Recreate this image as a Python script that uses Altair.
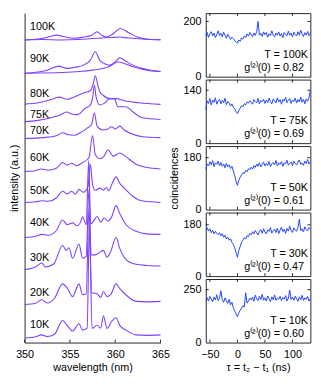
import altair as alt
import pandas as pd

PURPLE = "#7f40ff"
BLUE = "#2244ff"
FONT = "Liberation Sans"
AXC = "#262626"

# ---------------- left: stacked spectra (values = offset intensity, a.u.) ----------------
wl_100a = [350, 351.5, 352.8, 353.5, 354.3, 355.4, 356.5, 357.4, 358.0, 358.5, 359.0, 359.7, 360.6, 361.5, 362.6, 363.8, 365]
in_100a = [316, 317, 319.5, 321, 319.5, 317.7, 319, 321, 324.5, 321, 319, 322, 328, 323.5, 318.5, 316.5, 316]
wl_100b = [350, 352, 354, 356, 357.5, 358.5, 359.5, 360.5, 361.5, 363, 365]
in_100b = [316, 316.5, 316, 316.5, 317.5, 318, 318.5, 319, 318, 317, 316.5]
wl_90a = [350, 351.5, 352.8, 353.7, 354.7, 355.6, 356.5, 357.25, 357.8, 358.3, 358.9, 359.4, 360.0, 360.5, 361.0, 361.6, 363, 364, 365]
in_90a = [281.3, 282.5, 285.5, 288.7, 286.3, 287.5, 289.7, 294.7, 303.7, 294.7, 291, 289.7, 293, 297.3, 295, 291.3, 286.3, 284, 283]
wl_90b = [350, 352, 354, 356, 357.5, 358.5, 359.3, 360.3, 361, 362, 363.5, 365]
in_90b = [281.3, 281.5, 282, 283, 284.5, 286, 288, 293, 291.5, 288, 284.5, 283]
wl_80 = [350, 351.5, 352.8, 353.8, 354.7, 355.6, 356.5, 357.25, 357.6, 357.8, 358.1, 358.3, 358.7, 359.4, 360.1, 361, 362.6, 365]
in_80 = [249, 250.5, 253.5, 256.3, 254, 257, 260.7, 263, 271.3, 278.7, 268, 262, 258, 254.7, 254.7, 252.5, 250.5, 248.7]
wl_75 = [350, 351.5, 352.8, 354, 354.6, 355.3, 355.8, 356.7, 357.25, 357.5, 357.7, 357.9, 358.3, 358.8, 359.4, 359.9, 360.3, 361.2, 361.9, 363, 365]
in_75 = [230.7, 232, 234.5, 238, 240.7, 238.5, 238, 244.7, 248, 255, 268.7, 256, 248, 250, 254.7, 254.7, 246.3, 246.3, 241.3, 234.7, 233]
wl_70 = [350, 352, 353.5, 354.2, 354.8, 355.5, 356.3, 356.9, 357.4, 357.7, 358.0, 358.6, 359.2, 359.6, 360, 360.5, 361, 361.8, 363, 365]
in_70 = [213, 214, 216, 219, 217, 216.5, 220, 224, 228, 240, 226, 222, 223, 225.3, 223, 226, 222, 218, 215, 214]
wl_60 = [350, 351.2, 351.9, 352.6, 353.5, 354.2, 354.7, 355.2, 355.7, 356.4, 357.1, 357.5, 357.8, 358.3, 358.8, 359.2, 359.8, 360.5, 361.1, 362.3, 363.4, 365]
in_60 = [178.7, 179.5, 181.3, 180, 182, 188, 185.3, 187.3, 184.7, 188, 193, 216.3, 196.3, 192, 195, 201.3, 194.7, 198, 194.7, 186.3, 183, 181.3]
wl_50 = [350, 351.2, 351.9, 352.6, 353.5, 354.2, 354.7, 355.2, 355.6, 356.0, 356.5, 357.0, 357.25, 357.5, 357.8, 358.3, 358.7, 359.0, 359.3, 359.6, 360.1, 360.5, 361.0, 361.9, 362.9, 365]
in_50 = [146.3, 147, 148, 147.5, 151, 158, 155.3, 158, 155, 160, 157, 163, 186.3, 165, 159, 161.3, 159, 162, 158.5, 164.7, 173, 166.3, 161.3, 153, 148, 146.3]
wl_40 = [350, 351.2, 351.9, 352.6, 353.5, 354.2, 354.7, 355.3, 355.8, 356.2, 356.4, 356.8, 357.07, 357.3, 357.6, 358.0, 358.4, 358.8, 359.2, 359.6, 360.1, 360.5, 361.2, 362.3, 363.5, 365]
in_40 = [109.7, 111, 113, 112, 117, 128, 123, 125, 122, 126.3, 131.3, 123, 190, 124, 126.7, 131.7, 126, 130, 127, 131, 143, 134.7, 123, 116.3, 113.5, 113]
wl_30 = [350, 351.2, 351.9, 352.3, 353.2, 354.2, 354.6, 354.9, 355.3, 356, 356.4, 356.8, 357.1, 357.35, 357.6, 358.1, 358.7, 359.1, 359.5, 360.1, 360.5, 361.2, 362.3, 363.5, 365]
in_30 = [76.3, 79, 83, 79, 82, 101.3, 96.3, 99, 88, 103, 88, 90, 160, 92, 91.3, 93, 96.3, 89, 95, 109.7, 98.3, 86.7, 81.7, 80.5, 80]
wl_20 = [350, 351.2, 351.9, 352.5, 353.3, 354.2, 354.7, 355.3, 356, 356.4, 356.8, 357.1, 357.4, 358, 358.4, 358.7, 359.1, 359.5, 360.1, 360.5, 361.2, 362.3, 363.5, 365]
in_20 = [39.7, 41, 44.7, 41.3, 46.3, 61.3, 57, 48, 61.3, 50, 51, 140, 52, 51, 47, 53.3, 48, 50, 61.3, 56.3, 49.7, 43, 42.5, 43]
wl_10 = [350, 351.2, 351.9, 352.5, 353.3, 354.2, 354.7, 355.3, 356, 356.4, 356.9, 357.15, 357.45, 358, 358.4, 358.7, 359.1, 359.6, 360.1, 360.5, 361.2, 362.3, 363.5, 365]
in_10 = [4.7, 6, 8, 6.3, 8.7, 23, 18, 12, 19.7, 13, 15, 120, 14.7, 18, 15, 28, 14.7, 22, 26, 18, 13, 8, 7.5, 8]

temp_labels = ["100K", "90K", "80K", "75K", "70K", "60K", "50K", "40K", "30K", "20K", "10K"]
temp_label_y = [329, 295.7, 259.7, 238, 220.5, 193, 158, 124.7, 88, 51.3, 18]
wl_ticks = [350, 355, 360, 365]

# ---------------- right: coincidence histograms ----------------
tau = [-57.5 + 2.5 * i for i in range(77)]
c_100 = [148, 160, 142, 155, 163, 147, 158, 141, 152, 166, 149,
         157, 144, 161, 150, 139, 154, 146, 135, 143, 138, 130,
         126, 121, 133, 128, 140, 136, 148, 142, 155, 147, 160,
         151, 145, 158, 149, 163, 200, 150, 157, 146, 162, 152,
         160, 143, 155, 149, 166, 151, 144, 158, 150, 162, 147,
         156, 141, 160, 152, 148, 165, 150, 158, 144, 161, 153,
         147, 163, 150, 168, 155, 145, 159, 151, 164, 149, 157]
c_75 = [88, 112, 105, 118, 101, 114, 108, 120, 103, 111, 116,
        104, 113, 107, 119, 102, 110, 106, 98, 104, 95, 90,
        84, 78, 86, 92, 99, 96, 104, 101, 109, 106, 112,
        108, 103, 115, 110, 106, 118, 104, 113, 109, 116, 105,
        114, 107, 119, 110, 104, 117, 112, 106, 120, 109, 115,
        103, 116, 111, 121, 107, 113, 118, 105, 114, 110, 119,
        106, 115, 109, 122, 108, 116, 104, 117, 111, 120, 140]
c_50 = [140, 158, 151, 166, 155, 170, 149, 162, 157, 168, 152,
        163, 150, 158, 145, 160, 148, 155, 142, 150, 134, 118,
        98, 84, 102, 112, 120, 128, 125, 136, 131, 142, 138,
        147, 140, 152, 146, 158, 150, 162, 148, 156, 165, 151,
        160, 153, 167, 149, 158, 163, 155, 170, 152, 161, 157,
        166, 150, 162, 158, 171, 154, 160, 165, 152, 168, 159,
        155, 164, 172, 157, 161, 153, 168, 160, 174, 158, 165]
c_30 = [163, 170, 158, 166, 152, 161, 148, 157, 150, 145, 152,
        141, 149, 136, 143, 130, 137, 126, 131, 118, 112, 100,
        82, 66, 90, 104, 118, 126, 135, 130, 142, 138, 150,
        145, 156, 148, 160, 152, 144, 158, 163, 150, 166, 155,
        148, 162, 157, 170, 151, 159, 165, 153, 168, 149, 161,
        172, 156, 164, 150, 167, 158, 175, 160, 153, 169, 162,
        157, 171, 200, 160, 166, 155, 173, 163, 158, 170, 165]
c_10 = [200, 212, 196, 218, 205, 193, 214, 201, 226, 198, 208,
        245, 203, 190, 211, 197, 185, 204, 178, 190, 165, 150,
        134, 122, 140, 152, 163, 174, 168, 235, 186, 196, 210,
        201, 215, 195, 224, 206, 198, 219, 203, 228, 200, 211,
        196, 220, 207, 193, 216, 202, 225, 199, 210, 204, 218,
        198, 213, 205, 222, 196, 210, 248, 203, 215, 200, 219,
        207, 195, 216, 202, 223, 199, 211, 204, 218, 196, 208]

panel_series = [c_100, c_75, c_50, c_30, c_10]
panel_ymax = [230, 168, 220, 223, 300]
panel_ytick = [200, 140, 180, 180, 250]
panel_T = ["T = 100K", "T = 75K", "T = 50K", "T = 30K", "T = 10K"]
panel_g = ["g⁽²⁾(0) = 0.82", "g⁽²⁾(0) = 0.69", "g⁽²⁾(0) = 0.61", "g⁽²⁾(0) = 0.47", "g⁽²⁾(0) = 0.60"]
tau_ticks = [-50, 0, 50, 100]

# ---------------- layout sizes ----------------
RW, RH = 107, 65
RSP = 3
LW, LH = 139, 5 * RH + 4 * RSP

# ---------------- left chart ----------------
curves = [("100a", wl_100a, in_100a), ("100b", wl_100b, in_100b),
          ("90a", wl_90a, in_90a), ("90b", wl_90b, in_90b),
          ("80", wl_80, in_80), ("75", wl_75, in_75), ("70", wl_70, in_70),
          ("60", wl_60, in_60), ("50", wl_50, in_50), ("40", wl_40, in_40),
          ("30", wl_30, in_30), ("20", wl_20, in_20), ("10", wl_10, in_10)]
rows = []
for name, w, v in curves:
    for a, b in zip(w, v):
        rows.append({"s": name, "wl": a, "v": b})
df_spec = pd.DataFrame(rows)

xs = alt.Scale(domain=[350, 365], nice=False, zero=False)
ys = alt.Scale(domain=[0, 344], nice=False)
lxax = alt.Axis(values=wl_ticks, format="d", tickSize=0, labelPadding=6,
                labelFlush=False, labelOverlap=False,
                title="wavelength (nm)", titlePadding=3)
lyax = alt.Axis(labels=False, ticks=False, title="intensity (a.u.)", titlePadding=5)

spec = alt.Chart(df_spec).mark_line(color=PURPLE, strokeWidth=1.1, interpolate="monotone").encode(
    x=alt.X("wl:Q", scale=xs, axis=lxax),
    y=alt.Y("v:Q", scale=ys, axis=lyax),
    detail="s:N",
)
df_lab = pd.DataFrame({"wl": [350.6] * len(temp_labels), "v": temp_label_y, "t": temp_labels})
labs = alt.Chart(df_lab).mark_text(align="left", baseline="middle", font=FONT, fontSize=11,
                                   color="black").encode(
    x=alt.X("wl:Q", scale=xs, axis=lxax), y=alt.Y("v:Q", scale=ys, axis=lyax), text="t:N")
lticks = alt.Chart(pd.DataFrame({"wl": wl_ticks})).mark_rule(color=AXC).encode(
    x=alt.X("wl:Q", scale=xs, axis=lxax), y=alt.value(LH), y2=alt.value(LH - 3))
left = alt.layer(spec, labs, lticks).properties(
    width=LW, height=LH, view=alt.ViewBackground(stroke="transparent"))

# ---------------- right panels ----------------
panels = []
for k in range(5):
    df = pd.DataFrame({"tau": tau, "c": panel_series[k]})
    bottom = (k == 4)
    tx = alt.Scale(domain=[-57.5, 132.5], nice=False, zero=False)
    ty = alt.Scale(domain=[0, panel_ymax[k]], nice=False)
    if bottom:
        xax = alt.Axis(values=tau_ticks, tickSize=0, domain=False, labelPadding=6,
                       labelFlush=False, labelOverlap=False, format="d",
                       title="τ = t₂ − t₁ (ns)", titlePadding=3)
        X = lambda: alt.X("tau:Q", scale=tx, axis=xax)
    else:
        X = lambda: alt.X("tau:Q", scale=tx, axis=None)
    yax = alt.Axis(values=[0, panel_ytick[k]], tickSize=0, domain=False, labelPadding=5,
                   labelOverlap=False,
                   title="coincidences" if k == 2 else None, titlePadding=4)
    Y = lambda: alt.Y("c:Q", scale=ty, axis=yax)

    line = alt.Chart(df).mark_line(color=BLUE, strokeWidth=1).encode(x=X(), y=Y())
    tdf = pd.DataFrame({"tau": tau_ticks})
    tt = alt.Chart(tdf).mark_rule(color=AXC).encode(x=X(), y=alt.value(0), y2=alt.value(3))
    tb = alt.Chart(tdf).mark_rule(color=AXC).encode(x=X(), y=alt.value(RH), y2=alt.value(RH - 3))
    ydf = pd.DataFrame({"c": [panel_ytick[k]]})
    yl = alt.Chart(ydf).mark_rule(color=AXC).encode(y=Y(), x=alt.value(0), x2=alt.value(3))
    yr = alt.Chart(ydf).mark_rule(color=AXC).encode(y=Y(), x=alt.value(RW - 3), x2=alt.value(RW))
    t1 = alt.Chart(pd.DataFrame({"t": [panel_T[k]]})).mark_text(
        align="right", baseline="middle", font=FONT, fontSize=11, color="black").encode(
        x=alt.value(RW - 2.5), y=alt.value(RH * 0.66), text="t:N")
    t2 = alt.Chart(pd.DataFrame({"t": [panel_g[k]]})).mark_text(
        align="right", baseline="middle", font=FONT, fontSize=11, color="black").encode(
        x=alt.value(RW - 6.5), y=alt.value(RH * 0.86), text="t:N")
    p = alt.layer(line, tt, tb, yl, yr, t1, t2).properties(
        width=RW, height=RH, view=alt.ViewBackground(stroke=AXC, strokeWidth=1))
    panels.append(p)

right = alt.VConcatChart(vconcat=panels, spacing=RSP, bounds="flush")

chart = alt.HConcatChart(hconcat=[left, right], spacing=46.3, bounds="flush", padding=0).configure_axis(
    labelFont=FONT, titleFont=FONT, labelFontSize=11, titleFontSize=11,
    titleFontWeight="normal", labelColor="black", titleColor="black",
    domainColor=AXC, tickColor=AXC, grid=False,
).configure_view(stroke=AXC)

chart.save("out.html", embed_options={"renderer": "svg", "actions": False})
